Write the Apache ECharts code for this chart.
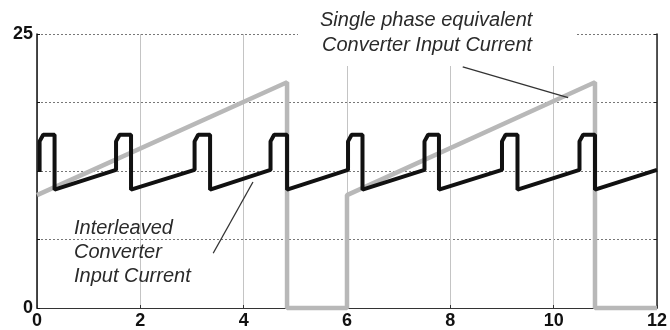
<!DOCTYPE html>
<html>
<head>
<meta charset="utf-8">
<script src="https://cdn.jsdelivr.net/npm/echarts@6/dist/echarts.min.js"></script>
<style>
    html, body { margin: 0; padding: 0; background: #fff; }
    #main { width: 670px; height: 330px; }
</style>
</head>
<body>
<div id="main"></div>
<script>
// 数据 (time, current)
var interleaved = [
    [0.05, 12.4], [0.05, 15.2], [0.12, 15.8], [0.34, 15.8], [0.34, 10.8],
    [1.53, 12.6], [1.53, 15.2], [1.6, 15.8], [1.82, 15.8], [1.82, 10.8],
    [3.05, 12.6], [3.05, 15.2], [3.12, 15.8], [3.35, 15.8], [3.35, 10.8],
    [4.52, 12.6], [4.52, 15.2], [4.59, 15.8], [4.84, 15.8], [4.84, 10.8],
    [6.02, 12.6], [6.02, 15.2], [6.09, 15.8], [6.3, 15.8], [6.3, 10.8],
    [7.5, 12.6], [7.5, 15.2], [7.57, 15.8], [7.78, 15.8], [7.78, 10.8],
    [9.0, 12.6], [9.0, 15.2], [9.07, 15.8], [9.3, 15.8], [9.3, 10.8],
    [10.5, 12.6], [10.5, 15.2], [10.57, 15.8], [10.8, 15.8], [10.8, 10.8],
    [12, 12.6]
];
var singlePhase = [
    [0, 10.3], [4.84, 20.6], [4.84, 0], [6, 0], [6, 10.3], [10.8, 20.6], [10.8, 0], [12, 0]
];
// 注释引线
var leaderTop = [[8.24, 22.0], [10.28, 19.2]];
var leaderBottom = [[3.41, 5.0], [4.18, 11.5]];
var xTicks = [0, 2, 4, 6, 8, 10, 12];
var yLabels = ['0', '25'];

var chart = echarts.init(document.getElementById('main'));
var font = 'Liberation Sans, Arial, sans-serif';

var option = {
    animation: false,
    grid: { left: 37, right: 13, top: 34, bottom: 22 },
    xAxis: {
        type: 'value',
        min: xTicks[0],
        max: xTicks[xTicks.length - 1],
        interval: 2,
        axisLine: { show: true, lineStyle: { color: '#333', width: 1.2 } },
        axisTick: { inside: true, length: 3, lineStyle: { color: '#333' } },
        axisLabel: { margin: 4, color: '#111', fontSize: 18, fontWeight: 'bold', fontFamily: font },
        splitLine: { show: true, lineStyle: { color: '#c4c4c4', width: 1 } }
    },
    yAxis: [
        {
            type: 'value',
            min: 0,
            max: 25,
            interval: 6.25,
            axisLine: { show: true, lineStyle: { color: '#111', width: 1.5 } },
            axisTick: { inside: true, length: 3, lineStyle: { color: '#111' } },
            axisLabel: {
                margin: 4, color: '#111', fontSize: 18, fontWeight: 'bold', fontFamily: font,
                formatter: function (v) {
                    return yLabels.indexOf(String(v)) >= 0 ? String(v) : '';
                }
            },
            splitLine: { show: true, lineStyle: { color: '#777', width: 1, type: [2, 2] } }
        },
        {
            type: 'value',
            min: 0,
            max: 25,
            interval: 6.25,
            position: 'right',
            axisLine: { show: true, lineStyle: { color: '#222', width: 1.5 } },
            axisTick: { inside: true, length: 3, lineStyle: { color: '#222' } },
            axisLabel: { show: false },
            splitLine: { show: false }
        }
    ],
    graphic: [
        // 遮挡顶部网格的白底
        { type: 'rect', z: 1, shape: { x: 298, y: 0, width: 277, height: 66 }, style: { fill: '#fff' } },
        { type: 'text', z: 10, style: { x: 320, y: 20, text: 'Single phase equivalent', font: 'italic 20px ' + font, fill: '#2a2a2a', verticalAlign: 'middle' } },
        { type: 'text', z: 10, style: { x: 322, y: 45, text: 'Converter Input Current', font: 'italic 20px ' + font, fill: '#2a2a2a', verticalAlign: 'middle' } },
        { type: 'text', z: 10, style: { x: 74, y: 228, text: 'Interleaved', font: 'italic 20px ' + font, fill: '#2a2a2a', verticalAlign: 'middle' } },
        { type: 'text', z: 10, style: { x: 74, y: 252, text: 'Converter', font: 'italic 20px ' + font, fill: '#2a2a2a', verticalAlign: 'middle' } },
        { type: 'text', z: 10, style: { x: 74, y: 276, text: 'Input Current', font: 'italic 20px ' + font, fill: '#2a2a2a', verticalAlign: 'middle' } }
    ],
    series: [
        {
            type: 'line',
            data: singlePhase,
            showSymbol: false,
            clip: false,
            lineStyle: { color: '#b8b8b8', width: 4.5 },
            z: 2
        },
        {
            type: 'line',
            data: interleaved,
            showSymbol: false,
            lineStyle: { color: '#111', width: 4 },
            z: 3
        },
        {
            type: 'line',
            data: leaderTop,
            showSymbol: false,
            lineStyle: { color: '#333', width: 1.3 },
            z: 4
        },
        {
            type: 'line',
            data: leaderBottom,
            showSymbol: false,
            lineStyle: { color: '#333', width: 1.3 },
            z: 4
        }
    ]
};
chart.setOption(option);
</script>
</body>
</html>
